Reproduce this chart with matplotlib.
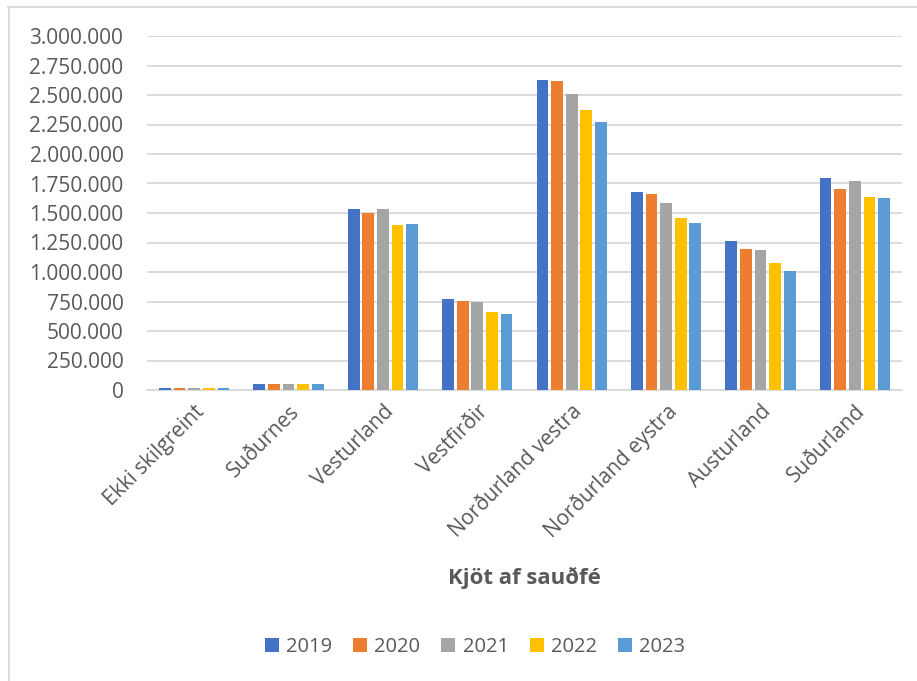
import matplotlib.pyplot as plt
import numpy as np
from matplotlib.ticker import FuncFormatter, MultipleLocator
from matplotlib.lines import Line2D

regions = ['Ekki skilgreint', 'Suðurnes', 'Vesturland', 'Vestfirðir',
           'Norðurland vestra', 'Norðurland eystra', 'Austurland', 'Suðurland']
years = ['2019', '2020', '2021', '2022', '2023']

v2019 = [20000, 50000, 1531000, 771000, 2627000, 1675000, 1263000, 1797000]
v2020 = [18000, 50000, 1497000, 757000, 2619000, 1661000, 1192000, 1703000]
v2021 = [18000, 55000, 1534000, 746000, 2512000, 1585000, 1186000, 1774000]
v2022 = [15000, 50000, 1402000, 661000, 2376000, 1460000, 1079000, 1633000]
v2023 = [20000, 52000, 1405000, 641000, 2275000, 1415000, 1006000, 1625000]

colors = ['#4472C4', '#ED7D31', '#A5A5A5', '#FFC000', '#5B9BD5']
text_color = '#595959'

plt.rcParams['font.family'] = ['Open Sans', 'DejaVu Sans']

fig = plt.figure(figsize=(9.17, 6.81), dpi=100)
ax = fig.add_axes([147 / 917, 1 - 390 / 681, 755 / 917, 354 / 681])

x = np.arange(len(regions))
step = 0.155
width = 0.125
for i, (vals, year) in enumerate(zip([v2019, v2020, v2021, v2022, v2023], years)):
    ax.bar(x + (i - 2) * step, vals, width=width, color=colors[i], label=year, zorder=3)

ax.set_xlim(-0.5, len(regions) - 0.5)
ax.set_ylim(0, 3000000)
ax.yaxis.set_major_locator(MultipleLocator(250000))
ax.yaxis.set_major_formatter(FuncFormatter(lambda v, p: f"{int(v):,}".replace(',', '.')))
ax.grid(axis='y', color='#D9D9D9', linewidth=1.3, zorder=0)

for s in ['top', 'right', 'left']:
    ax.spines[s].set_visible(False)
ax.spines['bottom'].set_color('#D9D9D9')
ax.spines['bottom'].set_linewidth(1.3)

ax.tick_params(axis='both', length=0, labelsize=15, colors=text_color)
ax.tick_params(axis='y', pad=17)
ax.set_xticks(x)
ax.set_xticklabels(regions, rotation=45, ha='right', rotation_mode='anchor')
ax.tick_params(axis='x', pad=8)

fig.text(524 / 917, 1 - 578 / 681, 'Kjöt af sauðfé', ha='center', va='center',
         fontsize=16, fontweight='bold', color=text_color)

handles, labels = ax.get_legend_handles_labels()
fig.legend(handles, labels, loc='center', bbox_to_anchor=(475 / 917, 1 - 647 / 681),
           ncol=5, frameon=False, fontsize=14.5, labelcolor=text_color,
           handlelength=0.7, handleheight=0.7, handletextpad=0.35, columnspacing=1.05)

# chart border (top and left visible)
fig.add_artist(Line2D([8 / 917, 1], [1 - 6.5 / 681, 1 - 6.5 / 681], color='#D9D9D9', linewidth=1.3))
fig.add_artist(Line2D([8.5 / 917, 8.5 / 917], [0, 1 - 6.5 / 681], color='#D9D9D9', linewidth=1.3))

fig.savefig('out.png', dpi=100)
